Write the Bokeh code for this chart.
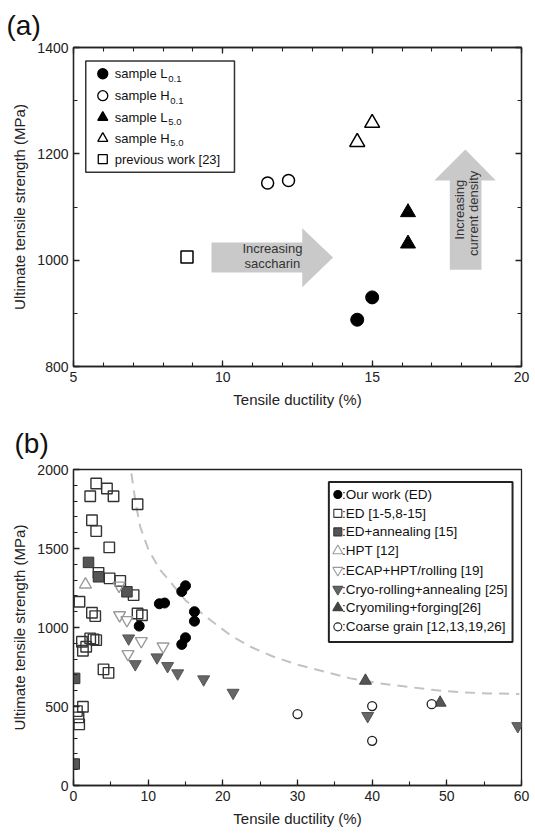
import math
from bokeh.plotting import figure
from bokeh.layouts import column
from bokeh.models import SingleIntervalTicker, LinearAxis, Range1d, CustomJSTickFormatter
from bokeh.core.properties import value
from bokeh.embed import file_html
from bokeh.resources import INLINE

FONT = "Liberation Sans"
INK = "#222222"

# ---------------- Panel (a) data ----------------
L01_x = [14.5, 15.0]
L01_y = [888, 930]
H01_x = [11.5, 12.2]
H01_y = [1145, 1150]
L50_x = [16.2, 16.2]
L50_y = [1090, 1031]
H50_x = [14.5, 15.0]
H50_y = [1222, 1258]
prev_x = [8.8]
prev_y = [1006]

legend_a_main = ["sample L", "sample H", "sample L", "sample H", "previous work [23]"]
legend_a_sub = ["0.1", "0.1", "5.0", "5.0", ""]

# ---------------- Panel (b) data ----------------
ours_x = [8.8, 11.5, 12.2, 14.5, 15.0, 16.2, 16.2, 14.5, 15.0]
ours_y = [1009, 1150, 1155, 893, 935, 1100, 1040, 1228, 1264]
ed_x = [3.04, 4.48, 5.36, 2.24, 8.58, 2.47, 3.04, 4.79, 3.35, 4.83, 6.26, 8.05, 0.8,
        2.47, 2.91, 8.58, 9.17, 1.13, 1.7, 1.26, 2.24, 2.68, 3.04, 4.02, 4.69,
        1.26, 0.46, 0.67, 0.76]
ed_y = [1911, 1880, 1831, 1831, 1780, 1679, 1610, 1507, 1346, 1311, 1295, 1205, 1163,
        1093, 1072, 1089, 1078, 910, 878, 853, 931, 925, 920, 735, 713,
        498, 471, 431, 387]
edann_x = [2.01, 3.35, 7.16, 0.15, 0.1]
edann_y = [1412, 1321, 1226, 678, 136]
hpt_x = [1.6]
hpt_y = [1272]
ecap_x = [6.1, 6.17, 7.16, 9.08, 12.0, 7.3]
ecap_y = [1265, 1078, 1047, 914, 880, 832]
cryo_x = [7.38, 8.27, 11.18, 12.6, 13.95, 17.43, 21.37, 39.4, 59.5]
cryo_y = [931, 768, 811, 756, 710, 672, 587, 440, 376]
cmf_x = [39.1, 49.1]
cmf_y = [663, 524]
cg_x = [30.0, 40.0, 40.0, 47.97]
cg_y = [452, 503, 283, 515]
guide_x = [7.75, 8.14, 8.5, 8.94, 10.06, 11.63, 12.97, 14.98, 18.33, 21.0, 23.7, 26.8,
           30.0, 34.0, 37.1, 41.1, 44.7, 48.3, 51.9, 55.4, 59.7]
guide_y = [1975, 1848, 1743, 1637, 1490, 1363, 1289, 1173, 1047, 952, 878, 815,
           765, 716, 678, 646, 625, 604, 590, 583, 579]

legend_b_labels = [":Our work (ED)", ":ED [1-5,8-15]", ":ED+annealing [15]", ":HPT [12]",
                   ":ECAP+HPT/rolling [19]", ":Cryo-rolling+annealing [25]",
                   ":Cryomiling+forging[26]", ":Coarse grain [12,13,19,26]"]


def style_axis(ax, show_labels=True, label_standoff=5, axis_label_standoff=5):
    ax.axis_line_color = INK
    ax.axis_line_width = 1.3
    ax.major_tick_in = 6
    ax.major_tick_out = 0
    ax.minor_tick_in = 4
    ax.minor_tick_out = 0
    ax.major_tick_line_color = INK
    ax.minor_tick_line_color = INK
    ax.major_tick_line_width = 1.3
    ax.minor_tick_line_width = 1.1
    ax.major_label_text_font = FONT
    ax.major_label_text_font_size = "14px"
    if show_labels:
        ax.major_label_text_color = INK
        ax.major_label_standoff = label_standoff
    else:
        ax.formatter = CustomJSTickFormatter(code="return '';")
        ax.major_label_text_color = None
        ax.major_label_standoff = 0
    ax.axis_label_text_font = FONT
    ax.axis_label_text_font_size = "15px"
    ax.axis_label_text_font_style = "normal"
    ax.axis_label_text_color = INK
    ax.axis_label_standoff = axis_label_standoff


def style_title(p, text, offset, standoff):
    p.title.text = text
    p.title.align = "left"
    p.title.offset = offset
    p.title.standoff = standoff
    p.title.text_font = FONT
    p.title.text_font_size = "28px"
    p.title.text_font_style = "normal"
    p.title.text_color = "#111111"


# ================= Panel (a) =================
pa = figure(width=535, height=410, x_range=Range1d(5, 20), y_range=Range1d(800, 1400),
            output_backend="svg", toolbar_location=None,
            min_border_left=73, min_border_right=14, min_border_top=47, min_border_bottom=44)
pa.xgrid.visible = False
pa.ygrid.visible = False
pa.outline_line_color = INK
pa.outline_line_width = 1.3
pa.xaxis.ticker = SingleIntervalTicker(interval=5, num_minor_ticks=5)
pa.yaxis.ticker = SingleIntervalTicker(interval=200, num_minor_ticks=2)
pa.xaxis.axis_label = "Tensile ductility (%)"
pa.yaxis.axis_label = "Ultimate tensile strength (MPa)"
style_axis(pa.xaxis[0], True, 5, 6)
style_axis(pa.yaxis[0], True, 5, 6)
top_a = LinearAxis(ticker=SingleIntervalTicker(interval=5, num_minor_ticks=5))
right_a = LinearAxis(ticker=SingleIntervalTicker(interval=200, num_minor_ticks=2))
style_axis(top_a, False)
style_axis(right_a, False)
pa.add_layout(top_a, "above")
pa.add_layout(right_a, "right")
style_title(pa, "(a)", -67, 13)

# arrows
pa.patch([9.62, 12.66, 12.66, 13.69, 12.66, 12.66, 9.62],
         [977, 977, 949, 1005, 1060, 1033, 1033], fill_color="#c9c9c9", line_color=None)
pa.patch([17.6, 18.66, 18.66, 19.14, 18.12, 17.08, 17.6],
         [982, 982, 1150, 1150, 1208, 1150, 1150], fill_color="#c9c9c9", line_color=None)
pa.text(x=[11.66, 11.66], y=[1022, 994], text=["Increasing", "saccharin"],
        text_font=value(FONT), text_font_size="13px", text_color="#333333",
        text_align="center", text_baseline="middle")
pa.text(x=[17.92, 18.40], y=[1095, 1088], text=["Increasing", "current density"],
        angle=math.pi / 2, text_font=value(FONT), text_font_size="13px",
        text_color="#333333", text_align="center", text_baseline="middle")

# data
pa.scatter(L01_x, L01_y, marker="circle", size=13, fill_color="black", line_color="black")
pa.scatter(H01_x, H01_y, marker="circle", size=12, fill_color="white", line_color="black",
           line_width=1.5)
pa.scatter(L50_x, L50_y, marker="triangle", size=15, fill_color="black", line_color="black")
pa.scatter(H50_x, H50_y, marker="triangle", size=15, fill_color="white", line_color="black",
           line_width=1.5)
pa.scatter(prev_x, prev_y, marker="square", size=12, fill_color="white", line_color="black",
           line_width=1.5)

# legend (a)
la_left, la_right, la_top, la_bottom = 5.41, 10.39, 1374.6, 1165.5
la_mx, la_tx = 5.98, 6.38
la_rows = [1350.6, 1309.3, 1268.5, 1229, 1190]
pa.quad(left=[la_left], right=[la_right], top=[la_top], bottom=[la_bottom],
        fill_color="white", line_color="#333333", line_width=1.5)
la_markers = [("circle", "black"), ("circle", "white"), ("triangle", "black"),
              ("triangle", "white"), ("square", "white")]
for (mk, fc), ry in zip(la_markers, la_rows):
    pa.scatter([la_mx], [ry], marker=mk, size=10 if mk != "square" else 9,
               fill_color=fc, line_color="black", line_width=1.3)
pa.text(x=[la_tx] * 5, y=la_rows, text=legend_a_main, text_font=value(FONT),
        text_font_size="13px", text_color="#111111", text_align="left",
        text_baseline="middle")
sub_offsets = [53.5, 55.5, 53.5, 55.5]
for txt, ry, off in zip(legend_a_sub[:4], la_rows[:4], sub_offsets):
    pa.text(x=[la_tx], y=[ry], text=[txt], x_offset=off, y_offset=5,
            text_font=value(FONT), text_font_size="9.5px", text_color="#111111",
            text_align="left", text_baseline="middle")

# ================= Panel (b) =================
pb = figure(width=535, height=422, x_range=Range1d(0, 60), y_range=Range1d(0, 2000),
            output_backend="svg", toolbar_location=None,
            min_border_left=73, min_border_right=14, min_border_top=59, min_border_bottom=47)
pb.xgrid.visible = False
pb.ygrid.visible = False
pb.outline_line_color = INK
pb.outline_line_width = 1.3
pb.xaxis.ticker = SingleIntervalTicker(interval=10, num_minor_ticks=2)
pb.yaxis.ticker = SingleIntervalTicker(interval=500, num_minor_ticks=5)
pb.xaxis.axis_label = "Tensile ductility (%)"
pb.yaxis.axis_label = "Ultimate tensile strength (MPa)"
style_axis(pb.xaxis[0], True, 5, 6)
style_axis(pb.yaxis[0], True, 5, 6)
style_title(pb, "(b)", -59, 22)

pb.line(guide_x, guide_y, line_color="#c2c2c2", line_width=2, line_dash="10 7")

pb.scatter(ed_x, ed_y, marker="square", size=10.5, fill_color=None, line_color="#333333",
           line_width=1.4)
pb.scatter(edann_x, edann_y, marker="square", size=10.5, fill_color="#555555",
           line_color="#333333", line_width=1)
pb.scatter(hpt_x, hpt_y, marker="triangle", size=12, fill_color=None, line_color="#9a9a9a",
           line_width=1.4)
pb.scatter(ecap_x, ecap_y, marker="inverted_triangle", size=12, fill_color=None,
           line_color="#9a9a9a", line_width=1.4)
pb.scatter(cryo_x, cryo_y, marker="inverted_triangle", size=12, fill_color="#666666",
           line_color="#555555", line_width=1)
pb.scatter(cmf_x, cmf_y, marker="triangle", size=12, fill_color="#555555",
           line_color="#444444", line_width=1)
pb.scatter(cg_x, cg_y, marker="circle", size=9, fill_color="white", line_color="#222222",
           line_width=1.3)
pb.scatter(ours_x, ours_y, marker="circle", size=10, fill_color="black", line_color="black")

# legend (b)
lb_left, lb_right, lb_top, lb_bottom = 34.2, 58.8, 1921, 909
lb_mx, lb_tx = 35.4, 35.95
lb_rows = [1842, 1722, 1605, 1485, 1362, 1242, 1125, 1004]
pb.quad(left=[lb_left], right=[lb_right], top=[lb_top], bottom=[lb_bottom],
        fill_color="white", line_color="#222222", line_width=2)
lb_markers = [("circle", "black", "black"), ("square", None, "#333333"),
              ("square", "#555555", "#333333"), ("triangle", None, "#9a9a9a"),
              ("inverted_triangle", None, "#9a9a9a"),
              ("inverted_triangle", "#666666", "#555555"),
              ("triangle", "#444444", "#444444"), ("circle", None, "#222222")]
for (mk, fc, lc), ry in zip(lb_markers, lb_rows):
    pb.scatter([lb_mx], [ry], marker=mk, size=8 if "circle" in mk or mk == "square" else 10,
               fill_color=fc, line_color=lc, line_width=1.1)
pb.text(x=[lb_tx] * 8, y=lb_rows, text=legend_b_labels, text_font=value(FONT),
        text_font_size="13.5px", text_color="#111111", text_align="left",
        text_baseline="middle")

layout = column(pa, pb, spacing=0)
open("out.html", "w").write(file_html(layout, INLINE))
